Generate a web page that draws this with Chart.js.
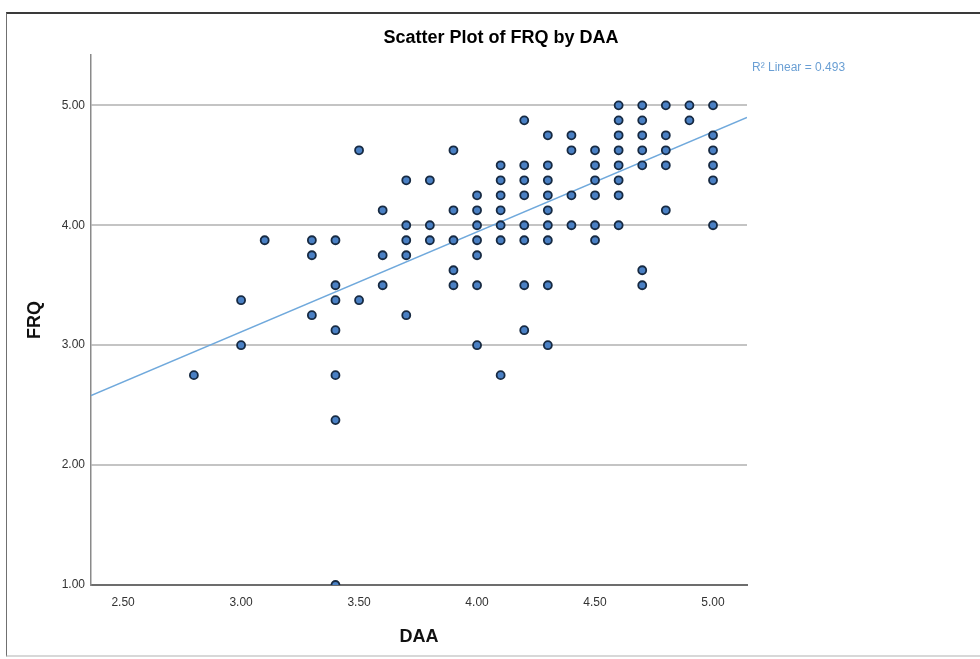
<!DOCTYPE html>
<html>
<head>
<meta charset="utf-8">
<title>Scatter Plot of FRQ by DAA</title>
<script src="https://cdn.jsdelivr.net/npm/chart.js@4.4.1/dist/chart.umd.min.js"></script>
<style>
  html, body { margin: 0; padding: 0; background: #fff; }
  #wrap { position: relative; width: 980px; height: 659px; overflow: hidden; }
  #frame {
    position: absolute; left: 6px; top: 12px; width: 990px; height: 641px;
    border-top: 2px solid #3a3a3a; border-left: 1px solid #707070; border-bottom: 2px solid #d8d8d8;
  }
  #chart { position: absolute; left: 0; top: 0; }
</style>
</head>
<body>
<div id="wrap">
  <div id="frame"></div>
  <canvas id="chart" width="980" height="659"></canvas>
</div>
<script>
// DAA (x) and FRQ (y), one column of DAA per line
const daa = [
  2.8,
  3.0, 3.0,
  3.1,
  3.3, 3.3, 3.3,
  3.4, 3.4, 3.4, 3.4, 3.4, 3.4, 3.4,
  3.5, 3.5,
  3.6, 3.6, 3.6,
  3.7, 3.7, 3.7, 3.7, 3.7,
  3.8, 3.8, 3.8,
  3.9, 3.9, 3.9, 3.9, 3.9,
  4.0, 4.0, 4.0, 4.0, 4.0, 4.0, 4.0,
  4.1, 4.1, 4.1, 4.1, 4.1, 4.1, 4.1,
  4.2, 4.2, 4.2, 4.2, 4.2, 4.2, 4.2, 4.2,
  4.3, 4.3, 4.3, 4.3, 4.3, 4.3, 4.3, 4.3, 4.3,
  4.4, 4.4, 4.4, 4.4,
  4.5, 4.5, 4.5, 4.5, 4.5, 4.5,
  4.6, 4.6, 4.6, 4.6, 4.6, 4.6, 4.6, 4.6,
  4.7, 4.7, 4.7, 4.7, 4.7, 4.7, 4.7,
  4.8, 4.8, 4.8, 4.8, 4.8,
  4.9, 4.9,
  5.0, 5.0, 5.0, 5.0, 5.0, 5.0
];
const frq = [
  2.75,
  3.375, 3.0,
  3.875,
  3.875, 3.75, 3.25,
  3.875, 3.5, 3.375, 3.125, 2.75, 2.375, 1.0,
  4.625, 3.375,
  4.125, 3.75, 3.5,
  4.375, 4.0, 3.875, 3.75, 3.25,
  4.375, 4.0, 3.875,
  4.625, 4.125, 3.875, 3.625, 3.5,
  4.25, 4.125, 4.0, 3.875, 3.75, 3.5, 3.0,
  4.5, 4.375, 4.25, 4.125, 4.0, 3.875, 2.75,
  4.875, 4.5, 4.375, 4.25, 4.0, 3.875, 3.5, 3.125,
  4.75, 4.5, 4.375, 4.25, 4.125, 4.0, 3.875, 3.5, 3.0,
  4.75, 4.625, 4.25, 4.0,
  4.625, 4.5, 4.375, 4.25, 4.0, 3.875,
  5.0, 4.875, 4.75, 4.625, 4.5, 4.375, 4.25, 4.0,
  5.0, 4.875, 4.75, 4.625, 4.5, 3.625, 3.5,
  5.0, 4.75, 4.625, 4.5, 4.125,
  5.0, 4.875,
  5.0, 4.75, 4.625, 4.5, 4.375, 4.0
];

// linear fit line, read at the two ends of the x axis
const fitX = [2.364, 5.144];
const fitY = [2.58, 4.90];
const rSquared = 0.493;

const xTicks = [2.5, 3.0, 3.5, 4.0, 4.5, 5.0];
const yTicks = [1, 2, 3, 4, 5];

const FONT = "'Liberation Sans', Arial, sans-serif";

// R² label next to the top right corner of the plot
const r2Label = {
  id: "r2Label",
  afterDraw(chart) {
    const { ctx, chartArea } = chart;
    ctx.save();
    ctx.font = "12px " + FONT;
    ctx.fillStyle = "#6a9fd4";
    ctx.textBaseline = "middle";
    ctx.fillText("R\u00B2 Linear = " + rSquared.toFixed(3), chartArea.right + 5, chartArea.top + 13);
    ctx.restore();
  },
};

new Chart(document.getElementById("chart"), {
  type: "scatter",
  data: {
    datasets: [
      {
        label: "FRQ",
        data: daa.map((x, i) => ({ x: x, y: frq[i] })),
        backgroundColor: "#4a80c4",
        borderColor: "#172a42",
        borderWidth: 1.8,
        pointRadius: 4,
        order: 1,
      },
      {
        type: "line",
        label: "Linear",
        data: fitX.map((x, i) => ({ x: x, y: fitY[i] })),
        borderColor: "#70a9dc",
        borderWidth: 1.5,
        pointRadius: 0,
        fill: false,
        order: 2,
      },
    ],
  },
  options: {
    responsive: false,
    animation: false,
    events: [],
    layout: { padding: { left: 22, top: 0, right: 0, bottom: 0 } },
    plugins: {
      legend: { display: false },
      tooltip: { enabled: false },
      title: {
        display: true,
        text: "Scatter Plot of FRQ by DAA",
        color: "#000",
        font: { family: FONT, size: 18, weight: "bold" },
        padding: { top: 27.2, bottom: 6.2 },
      },
    },
    scales: {
      x: {
        type: "linear",
        position: "bottom",
        min: 2.364,
        max: 5.144,
        afterBuildTicks: (s) => { s.ticks = xTicks.map((v) => ({ value: v })); },
        afterFit: (s) => { s.height = 74; },
        ticks: {
          callback: (v) => Number(v).toFixed(2),
          color: "#333",
          font: { family: FONT, size: 12 },
          padding: 10,
          maxRotation: 0,
          autoSkip: false,
        },
        grid: { color: "rgba(0,0,0,0)", drawTicks: false },
        border: { display: true, color: "#6d6d6d", width: 2 },
        title: {
          display: true,
          text: "DAA",
          color: "#111",
          font: { family: FONT, size: 18, weight: "bold" },
          padding: { top: 0, bottom: 11 },
        },
      },
      y: {
        type: "linear",
        position: "left",
        min: 1,
        max: 5.42,
        afterBuildTicks: (s) => { s.ticks = yTicks.map((v) => ({ value: v })); },
        afterFit: (s) => { s.width = 69; },
        ticks: {
          callback: (v) => Number(v).toFixed(2),
          color: "#333",
          font: { family: FONT, size: 12 },
          padding: 6,
        },
        grid: {
          color: (c) => (c.tick && c.tick.value === 1 ? "rgba(0,0,0,0)" : "#c4c4c4"),
          lineWidth: 2,
          drawTicks: false,
        },
        border: { display: true, color: "#8a8a8a", width: 1.5 },
        title: {
          display: true,
          text: "FRQ",
          color: "#111",
          font: { family: FONT, size: 18, weight: "bold" },
          padding: { top: 2.7, bottom: 0 },
        },
      },
      // empty space on the right of the plot
      yRight: {
        type: "linear",
        position: "right",
        afterFit: (s) => { s.width = 233; },
        grid: { display: false },
        ticks: { display: false },
        border: { display: false },
      },
    },
  },
  plugins: [r2Label],
});
</script>
</body>
</html>
